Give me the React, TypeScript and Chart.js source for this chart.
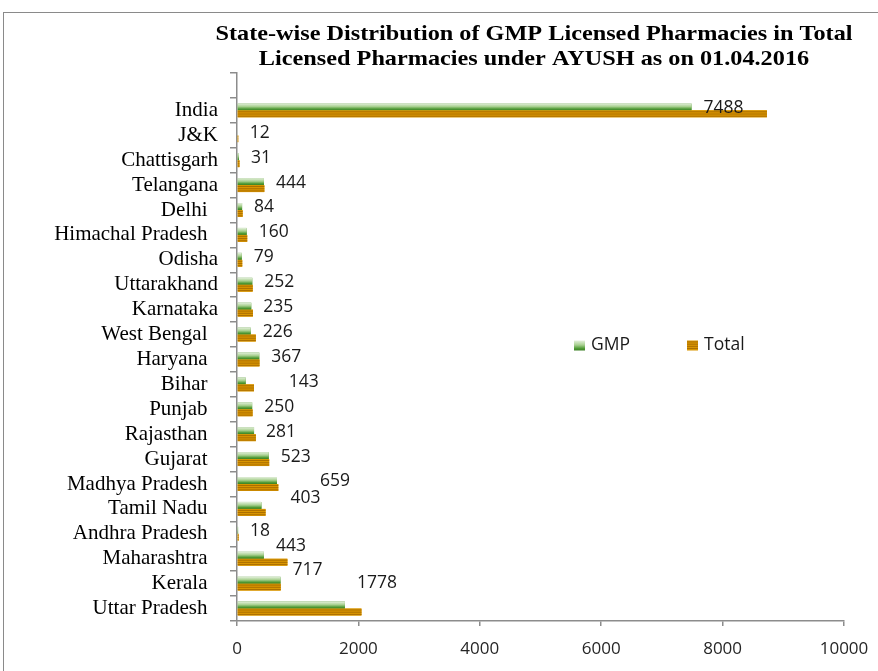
import React, { useEffect, useRef } from 'react';
import { Chart, registerables } from 'chart.js';

Chart.register(...registerables);

const TITLE_LINES = [
  'State-wise Distribution of GMP Licensed Pharmacies in Total',
  'Licensed Pharmacies under AYUSH as on 01.04.2016',
];

const STATES = [
  'India', 'J&K', 'Chattisgarh', 'Telangana', 'Delhi  ', 'Himachal Pradesh  ', 'Odisha',
  'Uttarakhand', 'Karnataka', 'West Bengal  ', 'Haryana  ', 'Bihar  ', 'Punjab  ', 'Rajasthan  ',
  'Gujarat  ', 'Madhya Pradesh  ', 'Tamil Nadu  ', 'Andhra Pradesh  ', 'Maharashtra  ', 'Kerala  ',
  'Uttar Pradesh  ',
];

const GMP = [7488, 12, 31, 444, 84, 160, 79, 252, 235, 226, 367, 143, 250, 281, 523, 659, 403, 18, 443, 717, 1778];

const TOTAL = [8730, 20, 40, 450, 92, 168, 86, 258, 262, 310, 370, 280, 256, 310, 530, 680, 470, 25, 830, 720, 2050];

const X_MIN = 0;
const X_MAX = 10000;
const X_STEP = 2000;

const SERIES_NAMES = ['GMP', 'Total'];

// style-only nudges (px) for the value labels that were moved by hand in the original
const LABEL_NUDGE: Record<number, [number, number]> = {
  11: [31, 0], // Bihar
  15: [31, 0], // Madhya Pradesh
  16: [17, -8], // Tamil Nadu
  18: [0, -10], // Maharashtra
  19: [0, -11], // Kerala
  20: [0, -23], // Uttar Pradesh
};

const AXIS_GREY = '#8c8c8c';

function paintGreen(ctx: CanvasRenderingContext2D, x0: number, y0: number, w: number, h: number) {
  const g = ctx.createLinearGradient(0, y0, 0, y0 + h);
  g.addColorStop(0, '#e4f0dc');
  g.addColorStop(0.45, '#a8d090');
  g.addColorStop(0.8, '#4f9a35');
  g.addColorStop(1, '#3b7f24');
  ctx.fillStyle = g;
  ctx.fillRect(x0, y0, w, h);
}

function paintOrange(ctx: CanvasRenderingContext2D, x0: number, y0: number, w: number, h: number) {
  ctx.fillStyle = '#d99600';
  ctx.fillRect(x0, y0, w, h);
  ctx.fillStyle = '#a86b00';
  for (let yy = y0 + 1; yy < y0 + h - 0.5; yy += 2.2) {
    ctx.fillRect(x0, yy, w, 0.9);
  }
}

const barPainter = {
  id: 'barPainter',
  afterDatasetsDraw(chart: any) {
    const ctx: CanvasRenderingContext2D = chart.ctx;
    ctx.save();
    chart.data.datasets.forEach((_ds: any, di: number) => {
      const meta = chart.getDatasetMeta(di);
      meta.data.forEach((el: any) => {
        const { x, y, base, height } = el.getProps(['x', 'y', 'base', 'height'], true);
        if (x == null || isNaN(x) || isNaN(y)) return;
        const left = Math.min(base, x);
        const w = Math.abs(x - base);
        if (w <= 0) return;
        const top = y - height / 2;
        if (di === 0) paintGreen(ctx, left, top, w, height);
        else paintOrange(ctx, left, top, w, height);
      });
    });
    ctx.restore();
  },
};

const valueLabels = {
  id: 'valueLabels',
  afterDatasetsDraw(chart: any) {
    const ctx: CanvasRenderingContext2D = chart.ctx;
    const yScale = chart.scales.y;
    const meta = chart.getDatasetMeta(0);
    ctx.save();
    ctx.font = '17.5px "Open Sans"';
    ctx.fillStyle = '#1a1a1a';
    ctx.textAlign = 'left';
    ctx.textBaseline = 'middle';
    meta.data.forEach((el: any, i: number) => {
      const v = chart.data.datasets[0].data[i];
      if (v == null) return;
      const nudge = LABEL_NUDGE[i - 1] || [0, 0];
      const cy = yScale.getPixelForValue(i) - 2.5;
      ctx.fillText(String(v), el.x + 12 + nudge[0], cy + nudge[1]);
    });
    ctx.restore();
  },
};

const titleAndLegend = {
  id: 'titleAndLegend',
  afterDraw(chart: any) {
    const ctx: CanvasRenderingContext2D = chart.ctx;
    ctx.save();
    ctx.fillStyle = '#000';
    ctx.font = 'bold 21px "Liberation Serif"';
    ctx.textAlign = 'center';
    ctx.textBaseline = 'alphabetic';
    TITLE_LINES.forEach((t, i) => {
      ctx.save();
      ctx.translate(534, 40 + i * 24.5);
      ctx.scale(1.155, 1);
      ctx.fillText(t, 0, 0);
      ctx.restore();
    });

    // legend
    const items = [
      { x: 574, paint: paintGreen, text: SERIES_NAMES[0] },
      { x: 687, paint: paintOrange, text: SERIES_NAMES[1] },
    ];
    ctx.font = '17.5px "Open Sans"';
    ctx.textAlign = 'left';
    ctx.textBaseline = 'middle';
    items.forEach((it) => {
      it.paint(ctx, it.x, 340.5, 11, 10);
      ctx.fillStyle = '#1a1a1a';
      ctx.fillText(it.text, it.x + 17, 345);
    });
    ctx.restore();
  },
};

export default function App() {
  const ref = useRef<HTMLCanvasElement | null>(null);

  useEffect(() => {
    if (!ref.current) return;
    const labels = ['', ...STATES];
    const chart = new Chart(ref.current, {
      type: 'bar',
      data: {
        labels,
        datasets: [
          {
            label: SERIES_NAMES[0],
            data: [null, ...GMP],
            backgroundColor: '#5a9a3c',
            categoryPercentage: 0.56,
            barPercentage: 1,
          },
          {
            label: SERIES_NAMES[1],
            data: [null, ...TOTAL],
            backgroundColor: '#d99600',
            categoryPercentage: 0.56,
            barPercentage: 1,
          },
        ],
      },
      options: {
        indexAxis: 'y',
        responsive: false,
        animation: false,
        events: [],
        layout: { padding: { top: 73, right: 34, left: 0, bottom: 0 } },
        plugins: {
          legend: { display: false },
          title: { display: false },
          tooltip: { enabled: false },
        },
        scales: {
          x: {
            type: 'linear',
            min: X_MIN,
            max: X_MAX,
            ticks: {
              stepSize: X_STEP,
              color: '#262626',
              font: { family: 'Open Sans', size: 17 },
              padding: 13,
              callback: (v: any) => String(v),
            },
            grid: {
              drawOnChartArea: false,
              drawTicks: true,
              tickLength: 5,
              color: AXIS_GREY,
              lineWidth: 1.5,
            },
            border: { color: AXIS_GREY, width: 1.5 },
            afterFit: (s: any) => {
              s.height = 50;
              s.paddingLeft = 0;
              s.paddingRight = 0;
            },
          },
          y: {
            type: 'category',
            ticks: {
              color: '#000',
              font: { family: 'Liberation Serif', size: 21 },
              padding: 12,
              autoSkip: false,
            },
            grid: {
              drawOnChartArea: false,
              drawTicks: true,
              tickLength: 7,
              color: AXIS_GREY,
              lineWidth: 1.5,
              offset: true,
            },
            border: { color: AXIS_GREY, width: 1.5 },
            afterFit: (s: any) => {
              s.width = 237;
              s.paddingTop = 0;
              s.paddingBottom = 0;
            },
          },
        },
      } as any,
      plugins: [barPainter, valueLabels, titleAndLegend],
    });
    return () => chart.destroy();
  }, []);

  return (
    <div
      style={{
        position: 'absolute',
        left: 0,
        top: 0,
        width: 878,
        height: 671,
        overflow: 'hidden',
        background: '#fff',
      }}
    >
      <div
        style={{
          position: 'absolute',
          left: 3,
          top: 12,
          width: 920,
          height: 720,
          border: '1px solid #8a8a8a',
        }}
      />
      <canvas
        ref={ref}
        width={878}
        height={671}
        style={{ position: 'absolute', left: 0, top: 0, width: 878, height: 671, display: 'block' }}
      />
    </div>
  );
}
